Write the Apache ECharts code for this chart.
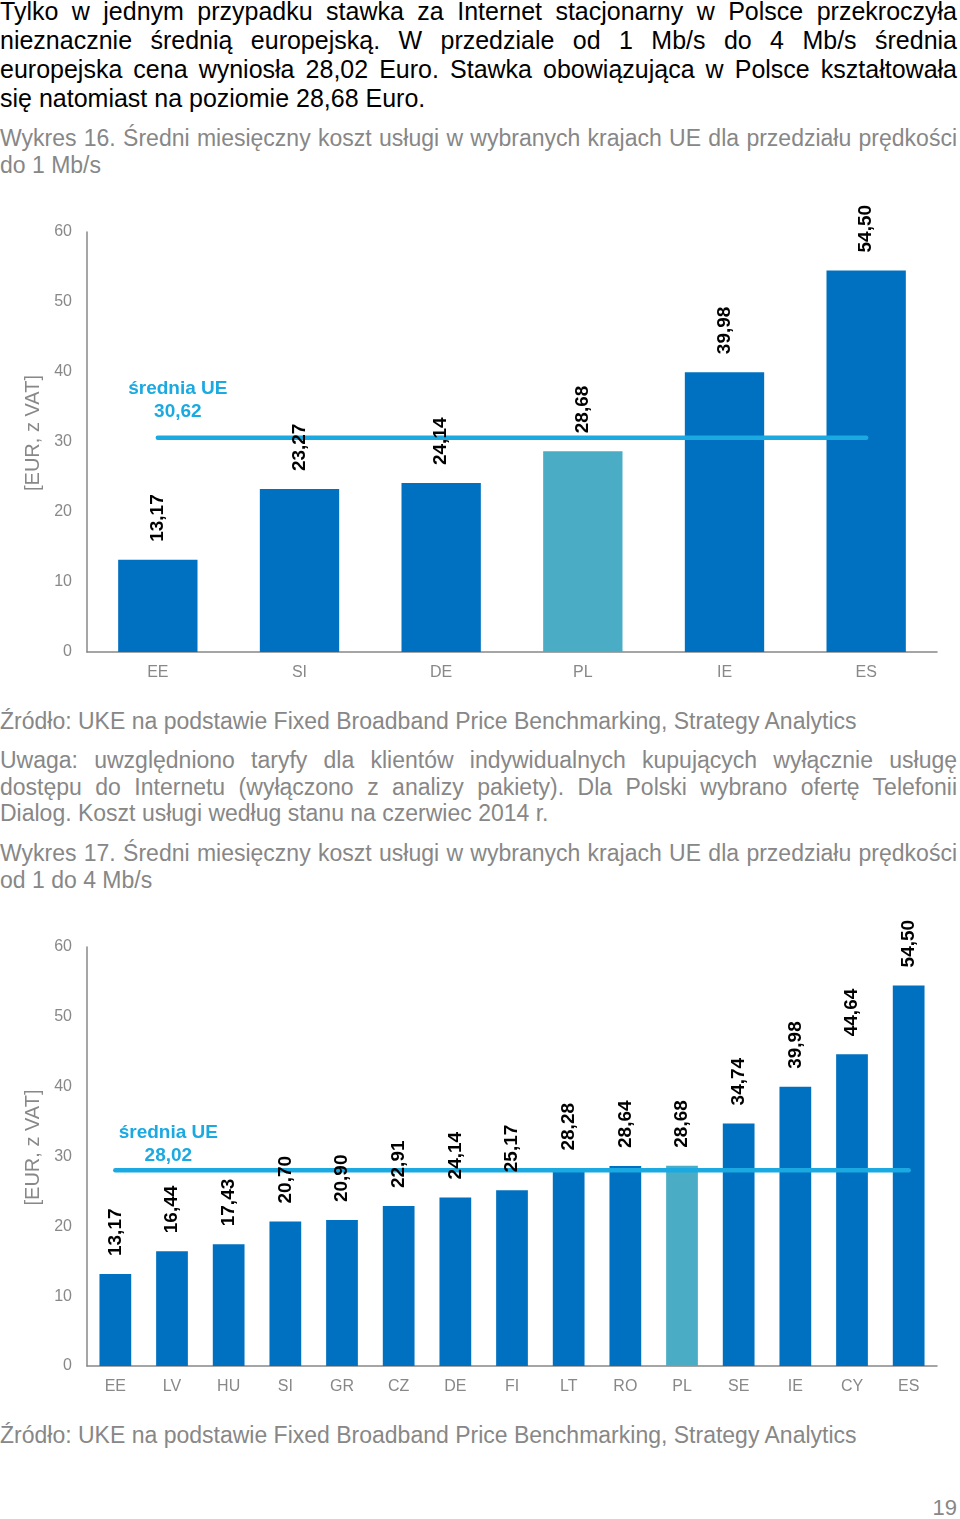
<!DOCTYPE html>
<html>
<head>
<meta charset="utf-8">
<script src="https://cdn.jsdelivr.net/npm/echarts@6/dist/echarts.min.js"></script>
<style>
  html, body { margin:0; padding:0; background:#fff; }
  #page { position:relative; width:960px; height:1519px; overflow:hidden; font-family:"Liberation Sans", Arial, sans-serif; }
  .blk { position:absolute; left:0; width:957px; }
  .ln { white-space:nowrap; }
  .j { text-align:justify; text-align-last:justify; }
  .body { font-size:25px; line-height:29px; color:#000; }
  .gray { font-size:23px; color:#878787; }
  #c1 { position:absolute; left:0; top:190px; width:960px; height:500px; }
  #c2 { position:absolute; left:0; top:900px; width:960px; height:500px; }
</style>
</head>
<body>
<div id="page">
  <div class="blk body" style="top:-3px;">
    <div class="ln j">Tylko w jednym przypadku stawka za Internet stacjonarny w Polsce przekroczyła</div>
    <div class="ln j">nieznacznie średnią europejską. W przedziale od 1 Mb/s do 4 Mb/s średnia</div>
    <div class="ln j">europejska cena wyniosła 28,02 Euro. Stawka obowiązująca w Polsce kształtowała</div>
    <div class="ln">się natomiast na poziomie 28,68 Euro.</div>
  </div>
  <div class="blk gray" style="top:124.5px; line-height:27px;">
    <div class="ln j">Wykres 16. Średni miesięczny koszt usługi w wybranych krajach UE dla przedziału prędkości</div>
    <div class="ln">do 1 Mb/s</div>
  </div>
  <div id="c1"></div>
  <div class="blk gray" style="top:707.5px; line-height:27px;">
    <div class="ln">Źródło: UKE na podstawie Fixed Broadband Price Benchmarking, Strategy Analytics</div>
  </div>
  <div class="blk gray" style="top:747px; line-height:26.5px;">
    <div class="ln j">Uwaga: uwzględniono taryfy dla klientów indywidualnych kupujących wyłącznie usługę</div>
    <div class="ln j">dostępu do Internetu (wyłączono z analizy pakiety). Dla Polski wybrano ofertę Telefonii</div>
    <div class="ln">Dialog. Koszt usługi według stanu na czerwiec 2014 r.</div>
  </div>
  <div class="blk gray" style="top:839.5px; line-height:27px;">
    <div class="ln j">Wykres 17. Średni miesięczny koszt usługi w wybranych krajach UE dla przedziału prędkości</div>
    <div class="ln">od 1 do 4 Mb/s</div>
  </div>
  <div id="c2"></div>
  <div class="blk gray" style="top:1421.5px; line-height:27px;">
    <div class="ln">Źródło: UKE na podstawie Fixed Broadband Price Benchmarking, Strategy Analytics</div>
  </div>
  <div class="gray" style="position:absolute; right:3px; top:1494px; line-height:27px; font-size:22px;">19</div>
</div>
<script>
// ---- Data ----
const categories1 = ['EE', 'SI', 'DE', 'PL', 'IE', 'ES'];
const values1 = [13.17, 23.27, 24.14, 28.68, 39.98, 54.50];
const average1 = 30.62;

const categories2 = ['EE', 'LV', 'HU', 'SI', 'GR', 'CZ', 'DE', 'FI', 'LT', 'RO', 'PL', 'SE', 'IE', 'CY', 'ES'];
const values2 = [13.17, 16.44, 17.43, 20.70, 20.90, 22.91, 24.14, 25.17, 28.28, 28.64, 28.68, 34.74, 39.98, 44.64, 54.50];
const average2 = 28.02;

const yTicks = { min: 0, max: 60, interval: 10 };
const highlightCountry = 'PL';
const averageLabel = 'średnia UE';

// ---- Styles ----
const BLUE = '#0070C0';
const AQUA = '#4BACC6';
const LINE = '#1BA9E1';
const GRAY = '#888888';
const FONT = '"Liberation Sans", Arial, sans-serif';

const fmt = v => Number(v).toFixed(2).replace('.', ',');

function buildOption(cats, vals, avg, grid, labelOffset, labelDist) {
  return {
    animation: false,
    textStyle: { fontFamily: FONT },
    grid: grid,
    xAxis: {
      type: 'category',
      data: cats,
      axisLine: { lineStyle: { color: GRAY, width: 1.5 } },
      axisTick: { show: false },
      axisLabel: { color: GRAY, fontSize: 16, margin: 13, fontFamily: FONT }
    },
    yAxis: {
      type: 'value',
      min: yTicks.min, max: yTicks.max, interval: yTicks.interval,
      name: '[EUR, z VAT]',
      nameLocation: 'middle',
      nameGap: 43,
      nameTextStyle: { color: GRAY, fontSize: 20, fontFamily: FONT, padding: [0, 0, 0, 18] },
      axisLine: { show: true, lineStyle: { color: GRAY, width: 1.5 } },
      axisTick: { show: false },
      splitLine: { show: false },
      axisLabel: { color: GRAY, fontSize: 16, margin: 15, fontFamily: FONT }
    },
    series: [
      {
        type: 'bar',
        data: vals,
        barWidth: '56%',
        itemStyle: {
          color: p => (p.name === highlightCountry ? AQUA : BLUE)
        },
        z: 2
      },
      {
        type: 'line',
        data: [
          {
            value: [cats[0], avg],
            label: {
              show: true,
              position: 'top',
              distance: labelDist,
              offset: [labelOffset, 0],
              color: LINE,
              fontWeight: 'bold',
              fontSize: 19,
              lineHeight: 23,
              align: 'center',
              fontFamily: FONT,
              formatter: () => averageLabel + '\n' + fmt(avg)
            }
          },
          { value: [cats[cats.length - 1], avg] }
        ],
        symbol: 'circle',
        symbolSize: 0,
        lineStyle: { color: LINE, width: 4.5, cap: 'round' },
        itemStyle: { color: LINE },
        z: 3
      },
      {
        // value labels, drawn above the average line
        type: 'bar',
        data: vals,
        barWidth: '56%',
        barGap: '-100%',
        itemStyle: { color: 'rgba(0,0,0,0)' },
        label: {
          show: true,
          position: 'top',
          rotate: 90,
          align: 'left',
          verticalAlign: 'middle',
          distance: 18,
          color: '#000',
          fontWeight: 'bold',
          fontSize: 19,
          fontFamily: FONT,
          formatter: p => fmt(p.value)
        },
        z: 4
      }
    ]
  };
}

const ch1 = echarts.init(document.getElementById('c1'), null, { renderer: 'canvas' });
ch1.setOption(buildOption(categories1, values1, average1,
  { left: 87, right: 23, top: 42, bottom: 38 }, 20, 14));

const ch2 = echarts.init(document.getElementById('c2'), null, { renderer: 'canvas' });
ch2.setOption(buildOption(categories2, values2, average2,
  { left: 87, right: 23, top: 47, bottom: 34 }, 53, 3));
</script>
</body>
</html>
